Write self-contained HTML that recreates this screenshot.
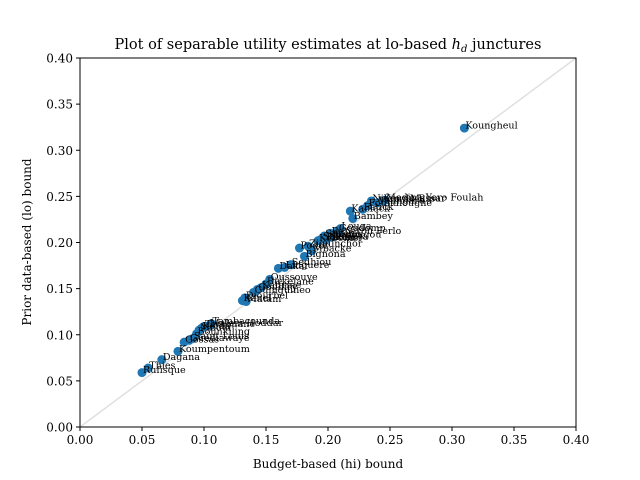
<!DOCTYPE html>
<html><head><meta charset="utf-8"><style>
body{margin:0;background:#fff}
svg{display:block;font-family:"DejaVu Serif","Liberation Serif",serif}
</style></head><body>
<svg id="chart" width="640" height="480" viewBox="0 0 640 480">
<rect width="640" height="480" fill="#fff"/>
<text x="328" y="49" text-anchor="middle" font-size="14.5">Plot of separable utility estimates at lo-based <tspan font-style="italic">h</tspan><tspan font-style="italic" font-size="10" dy="3">d</tspan><tspan dy="-3"> junctures</tspan></text>
<text x="328" y="468" text-anchor="middle" font-size="12">Budget-based (hi) bound</text>
<text transform="translate(31,242) rotate(-90)" text-anchor="middle" font-size="12">Prior data-based (lo) bound</text>
<g id="plot"></g>
</svg>
<script>
const names=["Rufisque","Thies","Dagana","Koumpentoum","Gossas","Guediawaye","Saint-Louis","Bounkiling","Mbour","Kolda","Tivaouane","Malem Hoddar","Tambacounda","Kanel","Matam","Diourbel","Guinguineo","Goudiry","Kaffrine","Birkelane","Oussouye","Dakar","Linguere","Sedhiou","Bignona","Podor","Ziguinchor","Mbacke","Kebemer","Salemata","Pikine","Saraya","Kedougou","Sokone","Goudomp","Ranerou Ferlo","Louga","Kaolack","Bambey","Fatick","Foundiougne","Nioro du Rip","Velingara","Keur Massar","Medina Yoro Foulah","Koungheul"];
const hiVals=[0.050,0.055,0.066,0.079,0.084,0.088,0.091,0.094,0.096,0.098,0.100,0.104,0.106,0.131,0.134,0.133,0.140,0.143,0.146,0.150,0.153,0.160,0.165,0.170,0.181,0.177,0.184,0.187,0.192,0.195,0.198,0.200,0.203,0.197,0.208,0.202,0.210,0.218,0.220,0.228,0.232,0.235,0.240,0.244,0.246,0.310];
const loVals=[0.059,0.064,0.073,0.082,0.092,0.094,0.096,0.101,0.105,0.107,0.109,0.110,0.112,0.137,0.136,0.140,0.146,0.149,0.151,0.155,0.160,0.172,0.173,0.176,0.185,0.194,0.196,0.191,0.202,0.204,0.203,0.205,0.206,0.207,0.213,0.210,0.215,0.234,0.226,0.236,0.240,0.245,0.243,0.245,0.246,0.324];
const xTicks=[0,0.05,0.1,0.15,0.2,0.25,0.3,0.35,0.4];
const yTicks=[0,0.05,0.1,0.15,0.2,0.25,0.3,0.35,0.4];
const X0=80,X1=576,Y0=427,Y1=58;
const sx=v=>X0+(v-0)/(0.4)*(X1-X0);
const sy=v=>Y0-(v-0)/(0.4)*(Y0-Y1);
const NS="http://www.w3.org/2000/svg";
const g=document.getElementById('plot');
function mk(t,a){const e=document.createElementNS(NS,t);for(const k in a)e.setAttribute(k,a[k]);g.appendChild(e);return e;}
const diag=mk('line',{x1:sx(0),y1:sy(0),x2:sx(0.4),y2:sy(0.4),stroke:'#e0e0e0','stroke-width':1.5});


for(let i=0;i<names.length;i++){
 const c=mk('circle',{cx:sx(hiVals[i]),cy:sy(loVals[i]),r:4.5,fill:'#1f77b4'});
 
 
}
for(let i=0;i<names.length;i++){
 const t=mk('text',{x:sx(hiVals[i])+1,y:sy(loVals[i])+0.5,'font-size':9.6});
 t.textContent=names[i];
 
 
}
const fr=mk('rect',{x:X0,y:Y1,width:X1-X0,height:Y0-Y1,fill:'none',stroke:'#000','stroke-width':1});


xTicks.forEach(v=>{
 const l=mk('line',{x1:sx(v),x2:sx(v),y1:Y0,y2:Y0+4,stroke:'#000'});
 
 
 const t=mk('text',{x:sx(v),y:Y0+17,'font-size':12,'text-anchor':'middle'});
 t.textContent=v.toFixed(2);
 
 
});
yTicks.forEach(v=>{
 const l=mk('line',{x1:X0-4,x2:X0,y1:sy(v),y2:sy(v),stroke:'#000'});
 
 
 const t=mk('text',{x:X0-7,y:sy(v)+4.5,'font-size':12,'text-anchor':'end'});
 t.textContent=v.toFixed(2);
 
 
});
</script>
</body></html>
